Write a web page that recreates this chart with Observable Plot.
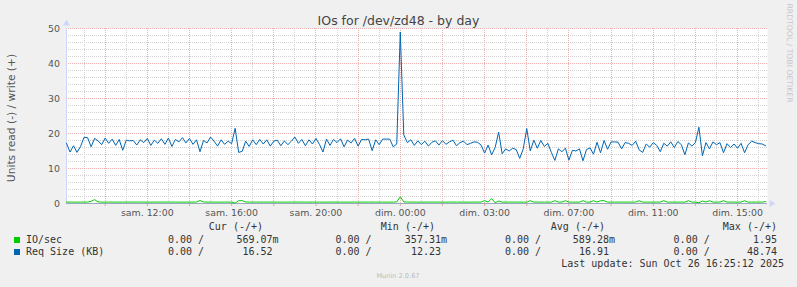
<!DOCTYPE html>
<html>
<head>
<meta charset="utf-8">
<script src="https://cdn.jsdelivr.net/npm/d3@7"></script>
<script src="https://cdn.jsdelivr.net/npm/@observablehq/plot@0.6"></script>
<style>
  html, body { margin: 0; padding: 0; background: #f0f0f0; }
  #wrap { position: relative; width: 797px; height: 287px; overflow: hidden; background: #f0f0f0; }
  #wrap svg { position: absolute; left: 0; top: 0; }
  .t { position: absolute; white-space: pre; line-height: normal; }
  .sans { font-family: "DejaVu Sans", sans-serif; }
  .mono { font-family: "DejaVu Sans Mono", monospace; font-size: 10px; color: #333; }
  .sw { position: absolute; width: 6px; height: 6px; }
</style>
</head>
<body>
<div id="wrap"></div>
<script>
// ---- data (10-minute steps) ----
const reqSizeKB = [
  17.2,14.7,16.5,14.6,16.3,18.9,18.8,16.2,18.6,17.9,
  16.8,18.7,17.2,18.4,16.6,18.3,15.2,18.1,17.9,18.0,
  16.7,18.2,17.4,18.6,16.6,18.1,17.2,18.5,16.9,18.7,
  16.3,18.3,17.6,18.8,17.3,18.6,16.9,18.2,14.8,18.0,
  17.3,19.0,17.8,16.4,18.2,16.9,17.8,17.1,21.5,14.6,
  14.9,17.8,16.3,18.2,16.8,18.3,17.0,18.2,16.4,17.8,
  18.1,16.5,17.9,16.8,17.8,19.0,17.2,18.3,16.5,18.2,
  17.0,18.6,16.9,14.7,18.4,16.6,18.3,17.4,18.5,16.2,
  18.1,17.3,18.6,16.4,18.3,18.2,18.4,15.1,18.2,16.8,
  18.4,18.4,18.4,16.2,17.0,49.0,19.6,17.4,18.2,16.6,
  17.9,16.8,17.8,16.4,17.5,17.9,16.7,18.0,16.9,17.6,
  18.1,16.5,17.4,17.8,16.8,17.2,17.6,17.5,16.7,14.4,
  16.7,13.9,16.0,20.4,14.2,15.6,15.0,15.8,15.4,12.9,
  15.6,21.4,15.0,18.1,15.8,18.0,16.3,17.2,14.6,12.3,
  15.6,14.8,15.8,12.4,15.2,15.0,15.6,12.2,15.4,15.9,
  14.1,17.5,14.5,18.0,15.5,17.6,17.6,17.5,15.6,17.4,
  17.2,16.6,17.8,15.3,14.6,17.0,16.1,17.4,16.6,14.8,
  17.2,16.4,17.6,16.0,17.7,16.8,13.9,17.3,16.4,17.4,
  21.8,13.6,17.4,15.6,17.6,16.8,17.4,14.5,17.1,16.0,
  17.0,15.8,17.2,14.5,16.8,17.8,17.4,17.1,17.0,16.5
];
const ioPerSec = [
  0.40,0.41,0.40,0.39,0.40,0.41,0.40,0.62,1.10,0.45,
  0.40,0.40,0.41,0.40,0.39,0.40,0.40,0.41,0.40,0.40,
  0.40,0.41,0.40,0.40,0.39,0.40,0.41,0.40,0.40,0.40,
  0.41,0.40,0.40,0.39,0.40,0.40,0.41,0.40,0.85,0.45,
  0.40,0.40,0.41,0.40,0.39,0.40,0.40,0.41,0.10,0.80,
  0.80,0.45,0.40,0.40,0.41,0.40,0.39,0.40,0.40,0.41,
  0.40,0.40,0.39,0.40,0.41,0.40,0.40,0.40,0.39,0.40,
  0.41,0.40,0.40,0.40,0.39,0.40,0.41,0.40,0.40,0.40,
  0.39,0.40,0.41,0.40,0.40,0.40,0.39,0.40,0.41,0.40,
  0.40,0.40,0.39,0.40,0.45,1.95,0.45,0.40,0.41,0.40,
  0.40,0.40,0.39,0.40,0.41,0.40,0.40,0.40,0.39,0.40,
  0.41,0.40,0.40,0.40,0.39,0.40,0.41,0.40,0.40,0.80,
  0.45,1.40,0.20,0.70,0.40,0.40,0.41,0.40,0.40,0.40,
  0.39,0.40,0.80,0.40,0.41,0.40,0.40,0.40,0.39,0.80,
  0.40,0.41,0.80,0.40,0.40,0.40,0.39,0.80,0.40,0.40,
  0.80,0.40,0.80,0.80,0.40,0.40,0.41,0.40,0.40,0.39,
  0.40,0.40,0.41,0.80,0.40,0.40,0.40,0.39,0.40,0.40,
  0.80,0.40,0.41,0.40,0.40,0.40,0.39,0.80,0.40,0.40,
  0.20,0.70,0.40,0.80,0.40,0.40,0.41,0.80,0.40,0.40,
  0.40,0.39,0.40,0.80,0.40,0.40,0.41,0.40,0.40,0.57
];
const startTime = Date.UTC(2025, 9, 25, 6, 10);
const endTime = Date.UTC(2025, 9, 26, 15, 25, 12);
const stepMinutes = 10;
const tickTimes = ["2025-10-25T10:00Z","2025-10-25T14:00Z","2025-10-25T18:00Z","2025-10-25T22:00Z",
                   "2025-10-26T02:00Z","2025-10-26T06:00Z","2025-10-26T10:00Z","2025-10-26T14:00Z"];
const tickLabels = ["sam. 12:00","sam. 16:00","sam. 20:00","dim. 00:00","dim. 03:00","dim. 07:00","dim. 11:00","dim. 15:00"];
const yMajor = [0, 10, 20, 30, 40, 50];
const yMinor = [2,4,6,8,12,14,16,18,22,24,26,28,32,34,36,38,42,44,46,48];

const seriesNames = ["IO/sec", "Req Size (KB)"];
const seriesColors = ["#00cc00", "#0066b3"];
const legendHeaders = ["Cur (-/+)", "Min (-/+)", "Avg (-/+)", "Max (-/+)"];
const statsRead = [["0.00","0.00","0.00","0.00"],["0.00","0.00","0.00","0.00"]];
const statsWrite = [["569.07m","357.31m","589.28m","1.95 "],["16.52 ","12.23 ","16.91 ","48.74 "]];

// ---- build ----
const data = reqSizeKB.map((v, i) => ({
  t: new Date(startTime + i * stepMinutes * 60000), size: v, io: ioPerSec[i]
}));
const x0 = new Date(startTime), x1 = new Date(endTime);
const labelMap = new Map(tickTimes.map((d, i) => [+new Date(d), tickLabels[i]]));
const xMajor = d3.utcHour.every(2).range(x0, x1);
const xMinor = d3.utcHour.range(x0, x1).filter(d => d.getUTCHours() % 2 === 1);

const plot = Plot.plot({
  width: 797, height: 287,
  marginTop: 28, marginRight: 30, marginBottom: 84, marginLeft: 66,
  style: { background: "transparent", fontFamily: "DejaVu Sans", overflow: "visible" },
  x: { type: "utc", domain: [x0, x1] },
  y: { domain: [0, 50] },
  marks: [
    Plot.frame({ fill: "white", stroke: null }),
    Plot.gridY({ ticks: yMinor, stroke: "#d2d2d2", strokeOpacity: 1, strokeDasharray: "1,1", shapeRendering: "crispEdges" }),
    Plot.gridX({ ticks: xMinor, stroke: "#d2d2d2", strokeOpacity: 1, strokeDasharray: "1,1", shapeRendering: "crispEdges" }),
    Plot.gridY({ ticks: yMajor.slice(1), stroke: "#ecb0b0", strokeOpacity: 1, strokeDasharray: "1,1", shapeRendering: "crispEdges" }),
    Plot.gridX({ ticks: xMajor, stroke: "#ecb0b0", strokeOpacity: 1, strokeDasharray: "1,1", shapeRendering: "crispEdges" }),
    Plot.axisY({ ticks: yMajor, tickSize: 0, tickPadding: 6.5, fontSize: 9.4, fill: "#555", label: null }),
    Plot.axisX({ ticks: tickTimes.map(d => new Date(d)), tickFormat: d => labelMap.get(+d),
                 tickSize: 0, tickPadding: 6, fontSize: 9.4, fill: "#555", label: null }),
    Plot.axisX({ ticks: xMajor, tickFormat: () => "", tickSize: 3, stroke: "#e4a0a0", label: null }),
    Plot.ruleX([x0], { stroke: "#cfd6f8", y1: 0, y2: 50 }),
    Plot.ruleY([0], { stroke: "#9aa8c0" }),
    Plot.dot([{ t: x1, v: 0 }], { x: "t", y: "v", symbol: "triangle", r: 2.6, rotate: 90, fill: "#cfd6f8", stroke: null, dx: 4 }),
    Plot.dot([{ t: x0, v: 50 }], { x: "t", y: "v", symbol: "triangle", r: 2.6, fill: "#cfd6f8", stroke: null, dy: -5 }),
    Plot.line(data, { x: "t", y: "io", stroke: seriesColors[0], strokeWidth: 1 }),
    Plot.line(data, { x: "t", y: "size", stroke: seriesColors[1], strokeWidth: 1 })
  ]
});
const wrap = document.getElementById("wrap");
wrap.appendChild(plot);

function put(text, cls, css) {
  const d = document.createElement("div");
  d.className = "t " + cls;
  d.textContent = text;
  Object.assign(d.style, css);
  wrap.appendChild(d);
  return d;
}
put("IOs for /dev/zd48 - by day", "sans", { left: "398.5px", top: "12.5px", fontSize: "12.5px", color: "#444", transform: "translateX(-50%)" });
put("Units read (-) / write (+)", "sans", { left: "11px", top: "117.5px", fontSize: "10.7px", color: "#555",
  transform: "translate(-50%,-50%) rotate(-90deg)" });
put("RRDTOOL / TOBI OETIKER", "sans", { left: "789px", top: "53px", fontSize: "7.7px", color: "#c8c8c8",
  transform: "translate(-50%,-50%) rotate(90deg)" });

const headerRight = [263, 435, 605, 777];
legendHeaders.forEach((h, k) => put(h, "mono", { right: (797 - headerRight[k]) + "px", top: "221.4px" }));
const readLeft = [168, 335.5, 505, 673.6];
const valRight = [278.6, 447, 615, 783];
const rowTop = [233.9, 245.9];
seriesNames.forEach((name, r) => {
  const sw = document.createElement("div");
  sw.className = "sw";
  Object.assign(sw.style, { left: "14px", top: (rowTop[r] + 3.3) + "px", background: seriesColors[r] });
  wrap.appendChild(sw);
  put(name, "mono", { left: "26px", top: rowTop[r] + "px" });
  for (let k = 0; k < 4; k++) {
    put(statsRead[r][k] + " /", "mono", { left: readLeft[k] + "px", top: rowTop[r] + "px" });
    put(statsWrite[r][k], "mono", { right: (797 - valRight[k]) + "px", top: rowTop[r] + "px" });
  }
});
put("Last update: Sun Oct 26 16:25:12 2025", "mono", { right: (797 - 784) + "px", top: "258.4px" });
put("Munin 2.0.67", "sans", { left: "398px", top: "272.3px", fontSize: "6.6px", color: "#bbb", transform: "translateX(-50%)" });
</script>
</body>
</html>
